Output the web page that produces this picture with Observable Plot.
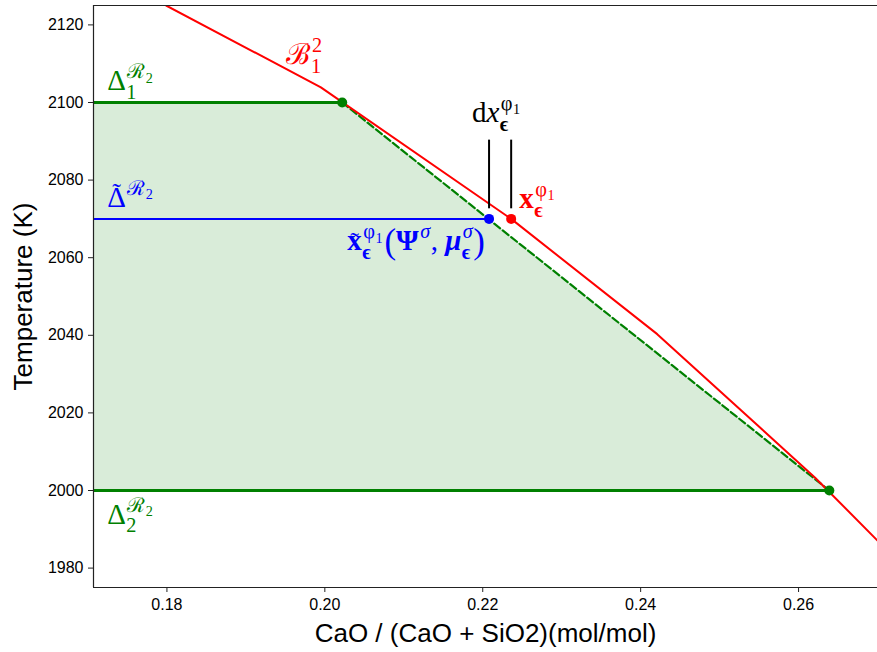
<!DOCTYPE html>
<html>
<head>
<meta charset="utf-8">
<script src="https://cdn.jsdelivr.net/npm/d3@7"></script>
<script src="https://cdn.jsdelivr.net/npm/@observablehq/plot@0.6"></script>
<style>
  html, body { margin: 0; padding: 0; background: #fff; }
  #chart svg { display: block; }
</style>
</head>
<body>
<div id="chart"></div>
<script>
// ---- data ----
const xDomain = [0.1707, 0.27];
const yDomain = [1975, 2125];
const xTicks = [0.18, 0.20, 0.22, 0.24, 0.26];
const yTicks = [1980, 2000, 2020, 2040, 2060, 2080, 2100, 2120];
const xLabel = "CaO / (CaO + SiO2)(mol/mol)";
const yLabel = "Temperature (K)";

// red boundary curve B_1^2
const boundaryX = [0.1799, 0.1995, 0.2236, 0.2421, 0.2621, 0.2700];
const boundaryT = [2125.0, 2103.9, 2070.0, 2040.3, 2003.3, 1987.1];

// green region limits Delta_1 (2100 K) and Delta_2 (2000 K)
const deltaT = [2100, 2000];
const deltaX = [0.2022, 0.2639];

// blue approximate level
const approxT = [2070];
const approxX = [0.2208];
// red exact point
const exactX = [0.2236];
const exactT = [2070];
// dx markers
const dxMarkX = [0.2208, 0.2236];
const dxMarkT = [2072.6, 2090.3];

// math labels (anchor in data coords)
const labelDelta1 = [{t: "Δ", sub: [{t: "1"}], sup: [{t: "ℛ", sub: [{t: "2"}]}]}];
const labelDeltaT = [{t: "Δ", acc: true, sup: [{t: "ℛ", sub: [{t: "2"}]}]}];
const labelDelta2 = [{t: "Δ", sub: [{t: "2"}], sup: [{t: "ℛ", sub: [{t: "2"}]}]}];
const labelB = [{t: "ℬ", sup: [{t: "2"}], sub: [{t: "1"}]}];
const labelDx = [{t: "d"}, {t: "x", s: "italic", sup: [{t: "φ", sub: [{t: "1"}]}], sub: [{t: "ϵ", w: "bold"}]}];
const labelXe = [{t: "x", w: "bold", sup: [{t: "φ", sub: [{t: "1"}]}], sub: [{t: "ϵ", w: "bold"}]}];
const labelXt = [
  {t: "x", w: "bold", acc: true, sup: [{t: "φ", sub: [{t: "1"}]}], sub: [{t: "ϵ", w: "bold"}]},
  {t: "(", k: 1.2},
  {t: "Ψ", w: "bold", sup: [{t: "σ", s: "italic"}]},
  {t: ", "},
  {t: "μ", w: "bold", s: "italic", sup: [{t: "σ", s: "italic"}], sub: [{t: "ϵ", w: "bold"}]},
  {t: ")", k: 1.2}
];
const labels = [
  {atoms: labelDelta1, x: 0.1725, y: 2103.0, color: "#008000"},
  {atoms: labelDeltaT, x: 0.1725, y: 2072.9, color: "#0000ff"},
  {atoms: labelDelta2, x: 0.1725, y: 1991.3, color: "#008000"},
  {atoms: labelB, x: 0.1952, y: 2109.7, color: "#ff0000"},
  {atoms: labelDx, x: 0.2187, y: 2094.8, color: "#000000"},
  {atoms: labelXe, x: 0.2247, y: 2072.7, color: "#ff0000"},
  {atoms: labelXt, x: 0.2029, y: 2061.8, color: "#0000ff"}
];

// ---- build tables ----
const boundary = boundaryX.map((x, i) => ({x, y: boundaryT[i]}));
const deltaPts = deltaX.map((x, i) => ({x, y: deltaT[i]}));
const fillRows = deltaPts.map(d => ({y: d.y, x1: xDomain[0], x2: d.x}));

const green = "#008000", red = "#ff0000", blue = "#0000ff";

const chart = Plot.plot({
  width: 877,
  height: 652,
  marginLeft: 93,
  marginRight: 0,
  marginTop: 5,
  marginBottom: 65,
  style: {fontFamily: "Liberation Sans, Arial, sans-serif", fontSize: "16px", color: "#000", background: "#fff", overflow: "visible"},
  x: {domain: xDomain},
  y: {domain: yDomain},
  marks: [
    Plot.areaX(fillRows, {y: "y", x1: "x1", x2: "x2", fill: green, fillOpacity: 0.15}),
    Plot.line(deltaPts, {x: "x", y: "y", stroke: green, strokeWidth: 2.2, strokeDasharray: "7.5,3.3"}),
    Plot.ruleY(deltaPts, {y: "y", x1: xDomain[0], x2: "x", stroke: green, strokeWidth: 3}),
    Plot.ruleY(approxT, {y: d => d, x1: xDomain[0], x2: approxX[0], stroke: blue, strokeWidth: 2}),
    Plot.line(boundary, {x: "x", y: "y", stroke: red, strokeWidth: 2, clip: true}),
    Plot.ruleX(dxMarkX, {x: d => d, y1: dxMarkT[0], y2: dxMarkT[1], stroke: "#000", strokeWidth: 2}),
    Plot.dot(deltaPts, {x: "x", y: "y", r: 5, fill: green}),
    Plot.dot(approxX, {x: d => d, y: approxT[0], r: 5, fill: blue}),
    Plot.dot(exactX, {x: d => d, y: exactT[0], r: 5, fill: red}),
    // frame (top, left, bottom)
    Plot.ruleY([yDomain[1]], {stroke: "#222", strokeWidth: 1.2}),
    Plot.ruleY([yDomain[0]], {stroke: "#222", strokeWidth: 1.2}),
    Plot.ruleX([xDomain[0]], {stroke: "#222", strokeWidth: 1.2}),
    Plot.axisX({ticks: xTicks, tickFormat: d3.format(".2f"), tickSize: 5, tickPadding: 6, fontSize: 16, label: null, stroke: "#222"}),
    Plot.axisY({ticks: yTicks, tickFormat: d3.format("d"), tickSize: 5, tickPadding: 5, fontSize: 16, label: null, stroke: "#222"}),
    Plot.text([xLabel], {frameAnchor: "bottom", dy: 54, lineAnchor: "bottom", fontSize: 26, text: d => d}),
    Plot.text([yLabel], {frameAnchor: "left", dx: -70, rotate: -90, textAnchor: "middle", lineAnchor: "middle", fontSize: 26, text: d => d})
  ]
});

// ---- math label rendering, positioned via the plot's scales ----
const sx = chart.scale("x"), sy = chart.scale("y");
const FONT = "'Liberation Serif', 'DejaVu Serif', serif";
const ctx = document.createElement("canvas").getContext("2d");
const NS = "http://www.w3.org/2000/svg";
const g = document.createElementNS(NS, "g");
g.setAttribute("text-anchor", "start");
chart.appendChild(g);

function fontOf(a, fs) { return `${a.s || "normal"} ${a.w || "normal"} ${fs}px ${FONT}`; }
function put(str, x, y, fs, a, color, accent) {
  const t = document.createElementNS(NS, "text");
  t.setAttribute("x", x);
  t.setAttribute("y", y);
  t.setAttribute("fill", color);
  t.setAttribute("font-family", FONT);
  t.setAttribute("font-size", fs);
  t.setAttribute("font-weight", a.w || "normal");
  t.setAttribute("font-style", a.s || "normal");
  t.setAttribute("text-anchor", "start");
  t.textContent = str;
  if (accent) {
    // tilde accent inside the same text element, centered over the glyph
    const afs = fs * 0.9;
    ctx.font = fontOf({}, afs);
    const tw = ctx.measureText("˜").width;
    const ts = document.createElementNS(NS, "tspan");
    ts.setAttribute("font-size", afs);
    ts.setAttribute("font-weight", "normal");
    ts.setAttribute("font-style", "normal");
    ts.setAttribute("dx", -(accent.w / 2 + tw / 2));
    ts.setAttribute("dy", -accent.up);
    ts.textContent = "˜";
    t.appendChild(ts);
  }
  g.appendChild(t);
}
function lay(atoms, x, y, s, color) {
  const x0 = x;
  for (const a of atoms) {
    const fs = s * (a.k || 1);
    ctx.font = fontOf(a, fs);
    const w = ctx.measureText(a.t).width;
    const up = /[A-ZΔ]/.test(a.t) ? 0.2 : 0.02;
    put(a.t, x, y + (a.k ? 0.08 * s : 0), fs, a, color, a.acc ? {w, up: up * fs} : null);
    let ws = 0, wb = 0;
    if (a.sup) ws = lay(a.sup, x + w + 1.5, y - 0.42 * s, s * 0.7, color);
    if (a.sub) wb = lay(a.sub, x + w + 0.5, y + (a.sup ? 0.3 : 0.22) * s, s * 0.7, color);
    x += w + Math.max(ws, wb) + ((ws || wb) ? 2 : 0);
  }
  return x - x0;
}
for (const L of labels) {
  lay(L.atoms, sx.apply(L.x), sy.apply(L.y), 29, L.color);
}

document.getElementById("chart").appendChild(chart);
</script>
</body>
</html>
